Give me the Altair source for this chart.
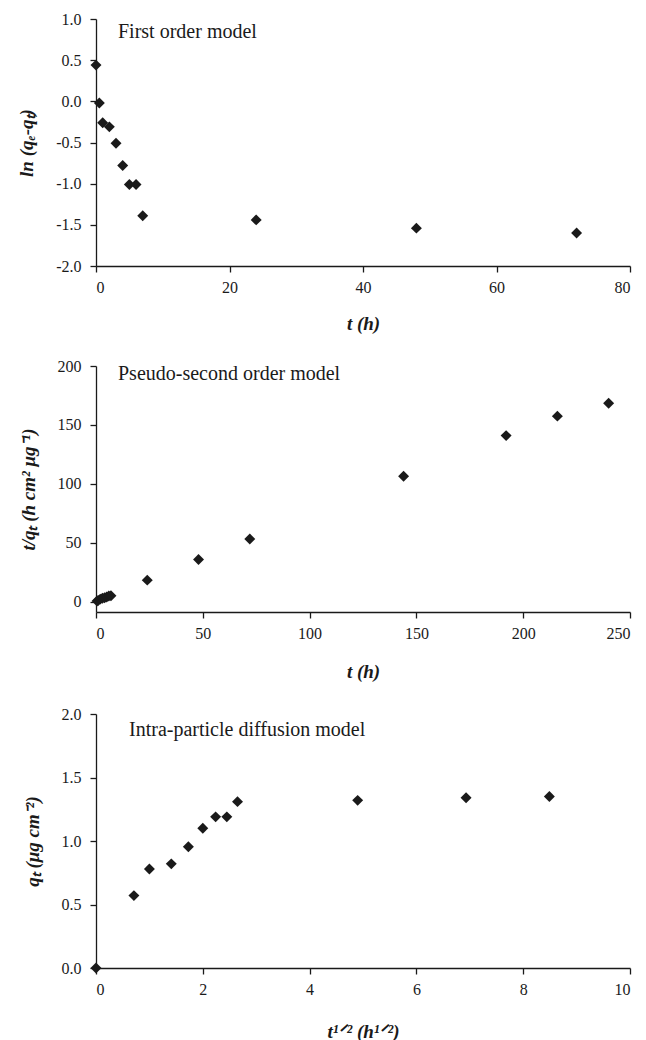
import altair as alt
import pandas as pd

# ---------------- data ----------------
# Panel 1: first order model
t_first = [0, 0.5, 1, 2, 3, 4, 5, 6, 7, 24, 48, 72]
ln_qe_qt = [0.44, -0.02, -0.26, -0.31, -0.51, -0.78, -1.01, -1.01, -1.39, -1.44, -1.54, -1.60]

# Panel 2: pseudo-second order model
t_second = [0.5, 1, 2, 3, 4, 5, 6, 7, 24, 48, 72, 144, 192, 216, 240]
t_over_qt = [0.9, 1.3, 2.4, 3.2, 3.6, 4.2, 5.0, 5.3, 18.5, 36.0, 53.3, 106.5, 141.0, 157.5, 168.5]

# Panel 3: intra-particle diffusion model
sqrt_t = [0, 0.71, 1.0, 1.41, 1.73, 2.0, 2.24, 2.45, 2.65, 4.9, 6.93, 8.49]
q_t = [0.0, 0.57, 0.78, 0.82, 0.955, 1.10, 1.19, 1.19, 1.31, 1.32, 1.34, 1.35]

labels = ["First order model", "Pseudo-second order model", "Intra-particle diffusion model"]
x_titles = ["t (h)", "t (h)", "t¹ᐟ² (h¹ᐟ²)"]
y_titles = ["ln (qₑ-qₜ)", "t/qₜ (h cm² μg⁻¹)", "qₜ (μg cm⁻²)"]

FONT = "Liberation Serif"
INK = "#1a1a1a"
W = 534

neg_fmt1 = "datum.value < 0 ? '-' + format(-datum.value, '.1f') : format(datum.value, '.1f')"


def panel(x, y, xdom, ydom, xticks, yticks, xtitle, ytitle, label, h, yfmt, lab_x, lab_y, xtp):
    df = pd.DataFrame({"x": x, "y": y})
    yaxis = dict(values=yticks, title=ytitle, titlePadding=19)
    if yfmt:
        yaxis["labelExpr"] = yfmt
    pts = alt.Chart(df).mark_point(
        shape="diamond", filled=True, size=120, color=INK, opacity=1
    ).encode(
        x=alt.X("x:Q", scale=alt.Scale(domain=xdom, nice=False, zero=False),
                axis=alt.Axis(values=xticks, title=xtitle, titlePadding=xtp)),
        y=alt.Y("y:Q", scale=alt.Scale(domain=ydom, nice=False, zero=False),
                axis=alt.Axis(**yaxis)),
    )
    txt = alt.Chart(pd.DataFrame({"t": [label]})).mark_text(
        align="left", baseline="alphabetic", font=FONT, fontSize=20, color=INK
    ).encode(x=alt.value(lab_x), y=alt.value(lab_y), text="t:N")
    return alt.layer(pts, txt).properties(width=W, height=h)


p1 = panel(t_first, ln_qe_qt, [0, 80], [-2.0, 1.0], [0, 20, 40, 60, 80],
           [-2.0, -1.5, -1.0, -0.5, 0.0, 0.5, 1.0], x_titles[0], y_titles[0], labels[0],
           247, neg_fmt1, 22, 19, 19)
p2 = panel(t_second, t_over_qt, [0, 250], [-8.5, 200], [0, 50, 100, 150, 200, 250],
           [0, 50, 100, 150, 200], x_titles[1], y_titles[1], labels[1],
           246, None, 22, 14, 21)
p3 = panel(sqrt_t, q_t, [0, 10], [0, 2.0], [0, 2, 4, 6, 8, 10],
           [0.0, 0.5, 1.0, 1.5, 2.0], x_titles[2], y_titles[2], labels[2],
           254, "format(datum.value, '.1f')", 33, 22, 25)

chart = alt.vconcat(p1, p2, p3, spacing=25).properties(
    padding={"top": 3, "left": 9, "right": 5, "bottom": 0}
).configure_view(stroke=None).configure_axis(
    grid=False,
    domainColor=INK, domainWidth=1.3,
    tickColor=INK, tickWidth=1.3, tickSize=6,
    labelFont=FONT, labelFontSize=16, labelColor=INK, labelPadding=9,
    titleFont=FONT, titleFontSize=19, titleFontWeight="bold", titleFontStyle="italic",
    titleColor=INK,
).configure_axisX(labelPadding=7)

chart.save("out.html", embed_options={"renderer": "svg", "actions": False})
